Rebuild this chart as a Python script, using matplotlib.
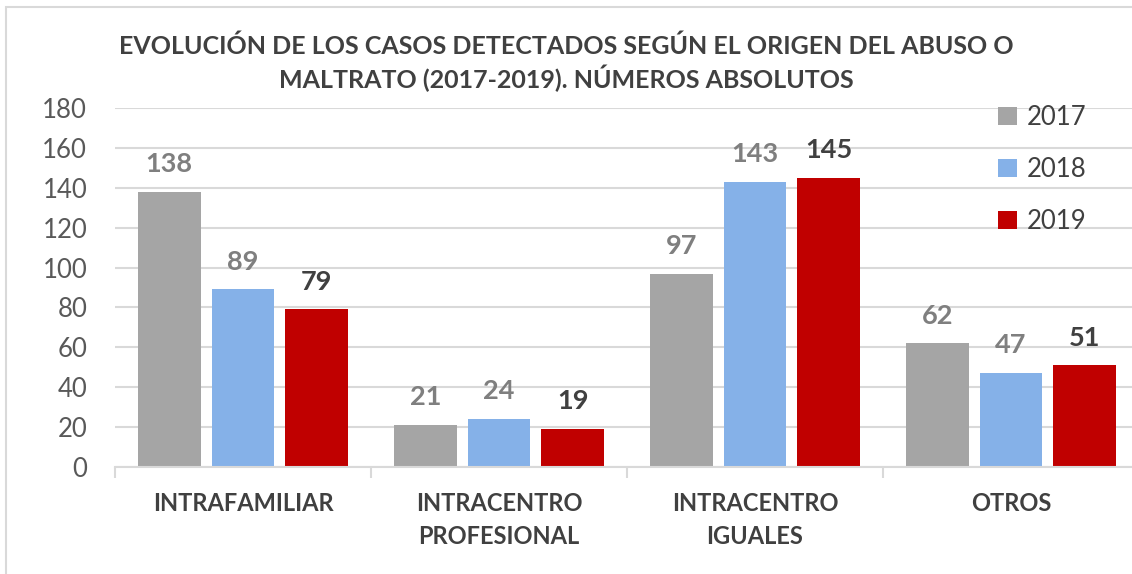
import numpy as np
import matplotlib
matplotlib.use("Agg")
import matplotlib.pyplot as plt
from matplotlib.patches import Rectangle

# Datos del gráfico
categorias = ["INTRAFAMILIAR", "INTRACENTRO\nPROFESIONAL", "INTRACENTRO\nIGUALES", "OTROS"]
anios = ["2017", "2018", "2019"]
casos_2017 = [138, 21, 97, 62]
casos_2018 = [89, 24, 143, 47]
casos_2019 = [79, 19, 145, 51]

COLORES = ["#a5a5a5", "#85b1e8", "#c00000"]
COLORES_ETIQ = ["#7f7f7f", "#7f7f7f", "#404040"]
FUENTE = ["Lato", "DejaVu Sans"]
PESO = "bold"

plt.rcParams["font.family"] = FUENTE

W, H = 1132, 574
fig = plt.figure(figsize=(W / 100, H / 100), dpi=100)

# marco exterior del gráfico
fig.patches.append(Rectangle((6 / W, -0.1), 1.2, (H - 7) / H + 0.1, transform=fig.transFigure,
                             fill=False, edgecolor="#d9d9d9", linewidth=1.5, zorder=0))

x0, x1 = 115, 1132
ax = fig.add_axes([x0 / W, (H - 467) / H, (x1 - x0) / W, 359 / H])

series = [casos_2017, casos_2018, casos_2019]
x = np.arange(len(categorias))
ancho = 0.245
paso = 0.288
for i, (vals, col) in enumerate(zip(series, COLORES)):
    pos = x + (i - 1) * paso
    ax.bar(pos, vals, ancho, color=col, label=anios[i], zorder=2)
    for p, v in zip(pos, vals):
        ax.annotate(str(v), (p, v), xytext=(0, 20), textcoords="offset points",
                    ha="center", va="center", fontsize=19.5, fontweight=PESO,
                    color=COLORES_ETIQ[i])

ax.set_ylim(0, 180)
ax.set_xlim(-0.5, 3.5 - 7 / 256)
ax.set_yticks(range(0, 181, 20))
ax.yaxis.grid(True, color="#d9d9d9", linewidth=1.5, zorder=0)
ax.set_axisbelow(True)
for s in ["top", "right", "left"]:
    ax.spines[s].set_visible(False)
ax.spines["bottom"].set_color("#d9d9d9")
ax.spines["bottom"].set_linewidth(1.5)
ax.tick_params(axis="y", length=0, labelsize=18.5, labelcolor="#595959", pad=20)

# ticks de separación entre categorías
ax.set_xticks(np.arange(-0.5, 3.5, 1.0))
ax.set_xticklabels([])
ax.tick_params(axis="x", which="major", length=8, width=1.5, color="#d9d9d9")
ax.set_xticks(x, minor=True)
ax.set_xticklabels(categorias, minor=True, fontsize=17, fontweight=PESO,
                   color="#404040", linespacing=1.55)
ax.tick_params(axis="x", which="minor", length=0, pad=18)
for lbl in ax.get_xticklabels(minor=True):
    lbl.set_verticalalignment("top")

ax.legend(loc="upper left", bbox_to_anchor=(860 / (x1 - x0), 1.073), frameon=False,
          fontsize=18.5, labelcolor="#404040", handlelength=0.75, handleheight=0.75,
          handletextpad=0.35, labelspacing=1.05)

fig.text(0.5, (H - 63) / H, "EVOLUCIÓN DE LOS CASOS DETECTADOS SEGÚN EL ORIGEN DEL ABUSO O\n"
         "MALTRATO (2017-2019). NÚMEROS ABSOLUTOS", ha="center", va="center",
         fontsize=18, fontweight=PESO, color="#404040", linespacing=1.3)

fig.savefig("out.png", dpi=100)
